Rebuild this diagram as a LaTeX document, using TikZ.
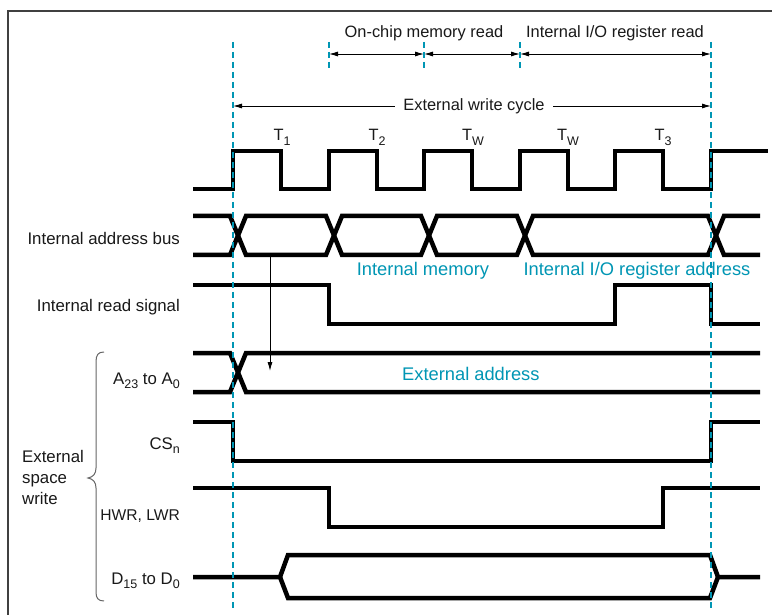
\documentclass[tikz,border=0pt]{standalone}
\usepackage{fontspec}
\setmainfont{Liberation Sans}
\usetikzlibrary{arrows.meta}
\definecolor{cy}{RGB}{0,150,180}
\newcommand{\mysub}[1]{\raisebox{-0.28em}{\fontsize{12.5}{13}\selectfont #1}}
\begin{document}
\begin{tikzpicture}[x=1pt,y=-1pt,
  sig/.style={line width=4.5pt, line join=miter},
  vline/.style={cy, line width=2.5pt, dash pattern=on 6pt off 4pt},
  dim/.style={line width=0.9pt,{Latex[length=9pt,width=5pt]}-{Latex[length=9pt,width=5pt]}},
  lab/.style={font=\fontsize{16.8}{20}\selectfont, text=black!90, inner sep=0pt},
  tlab/.style={font=\fontsize{16.4}{20}\selectfont, text=black!90, inner sep=0pt},
  clab/.style={font=\fontsize{18.3}{22}\selectfont, text=cy, inner sep=0pt}]
\useasboundingbox (0,0) rectangle (772,615);
\fill[white] (0,0) rectangle (772,615);
\draw[black!75, line width=1.2pt] (8,615) -- (8,11) -- (772,11);

% top dimension lines
\node[tlab, anchor=base] (ocm) at (424,38) {On-chip memory read};
\node[tlab, anchor=base] (iior) at (615,38) {Internal I/O register read};
\coordinate (d1) at (329,54);
\coordinate (d2) at (424,54);
\coordinate (d3) at (520,54);
\coordinate (d4) at (711,54);
\draw[dim] (d1) -- (d2);
\draw[dim] (d2) -- (d3);
\draw[dim] (d3) -- (d4);
\coordinate (e1) at (233,106);
\coordinate (e2) at (711,106);
\draw[dim] (e1) -- (e2);
\node[tlab, fill=white, inner xsep=8pt, inner ysep=2pt] (ewc) at (474,106) {External write cycle};

% clock
\draw[sig] (193,189) -- (233,189) -- (233,151) -- (281,151) -- (281,189) -- (329,189) -- (329,151) -- (377,151) -- (377,189) -- (424,189) -- (424,151) -- (472,151) -- (472,189) -- (520,189) -- (520,151) -- (568,151) -- (568,189) -- (615,189) -- (615,151) -- (663,151) -- (663,189) -- (711,189) -- (711,151) -- (768,151);
\node[tlab, anchor=base] (t1) at (282,141) {T\mysub{1}};
\node[tlab, anchor=base] (t2) at (377,141) {T\mysub{2}};
\node[tlab, anchor=base] (tw1) at (473,141) {T\mysub{W}};
\node[tlab, anchor=base] (tw2) at (568,141) {T\mysub{W}};
\node[tlab, anchor=base] (t3) at (663,141) {T\mysub{3}};

% internal address bus
\draw[sig] (193,216) -- (230,216) -- (246,255) -- (326,255) -- (342,216) -- (421,216) -- (437,255) -- (517,255) -- (533,216) -- (708,216) -- (724,255) -- (760,255);
\draw[sig] (193,255) -- (230,255) -- (246,216) -- (326,216) -- (342,255) -- (421,255) -- (437,216) -- (517,216) -- (533,255) -- (708,255) -- (724,216) -- (760,216);
\node[clab, anchor=base] (imem) at (423,276) {Internal memory};
\node[clab, anchor=base] (iora) at (637,276) {Internal I/O register address};

% internal read
\draw[sig] (193,285) -- (329,285) -- (329,324) -- (615,324) -- (615,285) -- (711,285) -- (711,324) -- (760,324);

% A bus
\draw[sig] (193,353) -- (230,353) -- (246,392) -- (760,392);
\draw[sig] (193,392) -- (230,392) -- (246,353) -- (760,353);
\node[clab, anchor=base west] (eadr) at (402,380) {External address};

% CS
\draw[sig] (193,422) -- (233,422) -- (233,461) -- (711,461) -- (711,422) -- (760,422);
% HWR
\draw[sig] (193,488) -- (329,488) -- (329,527) -- (663,527) -- (663,488) -- (760,488);
% D bus
\draw[sig] (193,577) -- (280,577) -- (288,555) -- (710,555) -- (718,577) -- (760,577);
\draw[sig] (280,577) -- (288,598) -- (710,598) -- (718,577);

% thin arrow
\coordinate (a1) at (270,254);
\coordinate (a2) at (270,371);
\draw[line width=0.9pt, -{Latex[length=9pt,width=5pt]}] (a1) -- (a2);

% dashed cyan lines
\draw[vline] (233,42) -- (233,610);
\draw[vline] (711,42) -- (711,610);
\foreach \x in {329,424,520} \draw[vline] (\x,42) -- (\x,70);

% labels
\node[lab, anchor=base east] (lab1) at (180,245) {Internal address bus};
\node[lab, anchor=base east] (lab2) at (180,311) {Internal read signal};
\node[lab, anchor=base east] (lab3) at (180,384) {A\mysub{23} to A\mysub{0}};
\node[lab, anchor=base east] (lab4) at (180,449) {CS\mysub{n}};
\node[lab, anchor=base east, font=\fontsize{15.6}{20}\selectfont] (lab5) at (180,520) {HWR, LWR};
\node[lab, anchor=base east] (lab6) at (180,584) {D\mysub{15} to D\mysub{0}};
\node[lab, anchor=base west] (ext1) at (22,462) {External};
\node[lab, anchor=base west] (ext2) at (22,483) {space};
\node[lab, anchor=base west] (ext3) at (22,504) {write};

% brace
\draw[black!60, line width=1pt] (104,352) .. controls (98,352) and (96,355) .. (96,362) -- (96,468) .. controls (96,474) and (93,477) .. (88,478) .. controls (93,479) and (96,482) .. (96,488) -- (96,592) .. controls (96,598) and (98,601) .. (104,601);
\end{tikzpicture}
\end{document}
